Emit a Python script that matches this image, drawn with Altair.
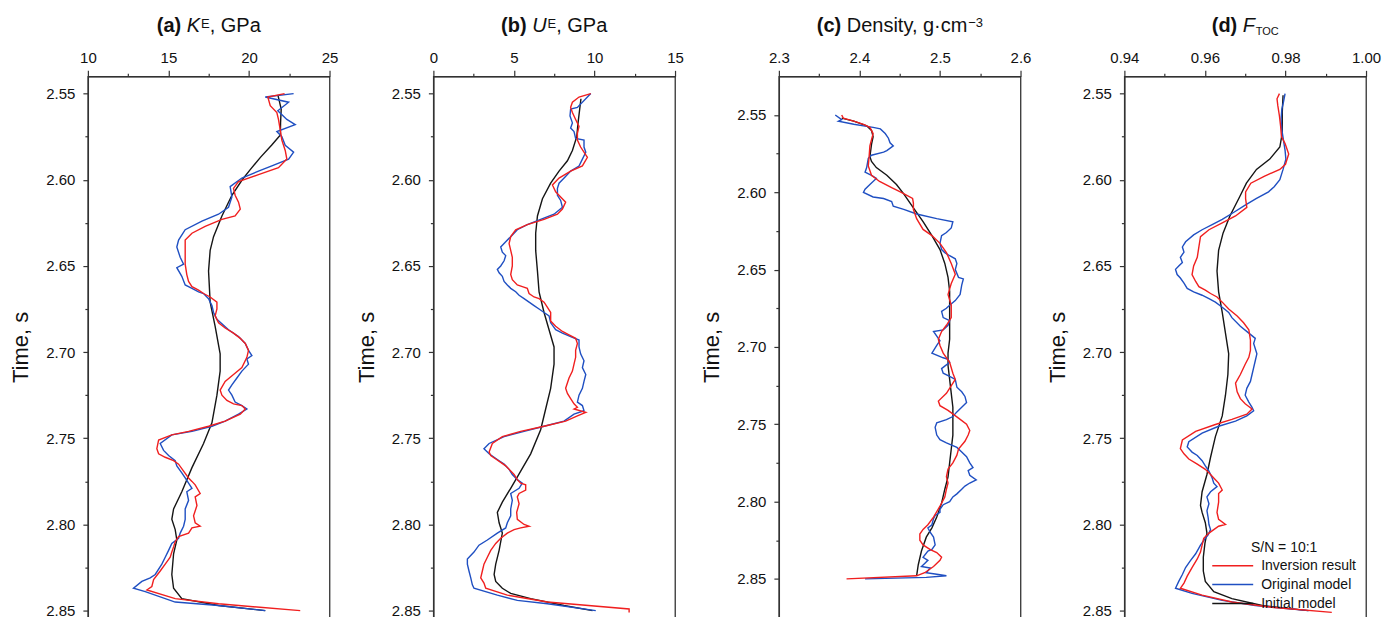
import altair as alt
import pandas as pd

FONT = "Liberation Sans"
RED = "#f01f1f"
BLUE = "#1f4fc2"
BLACK = "#151515"
SERIES = ["Inversion result", "Original model", "Initial model"]

a_inv = [(2.550,22.21),(2.552,21.17),(2.557,21.32),(2.561,21.73),(2.565,21.83),(2.571,21.94),(2.577,22.04),(2.583,22.25),(2.588,22.35),(2.593,21.83),(2.597,20.59),(2.601,19.35),(2.605,19.04),(2.609,19.14),(2.613,19.35),(2.617,19.46),(2.621,19.14),(2.623,18.32),(2.627,17.28),(2.631,16.46),(2.635,16.04),(2.641,16.04),(2.649,16.04),(2.655,16.14),(2.659,16.25),(2.662,16.46),(2.664,16.87),(2.666,17.18),(2.668,17.59),(2.671,18.01),(2.675,18.01),(2.679,17.90),(2.683,18.11),(2.686,18.52),(2.689,19.04),(2.692,19.46),(2.695,19.77),(2.699,19.97),(2.703,19.87),(2.709,19.56),(2.713,19.04),(2.717,18.52),(2.722,18.21),(2.725,18.32),(2.728,18.63),(2.730,19.04),(2.731,19.56),(2.733,19.77),(2.736,19.46),(2.740,18.52),(2.743,17.49),(2.746,16.25),(2.748,15.21),(2.751,14.39),(2.756,14.28),(2.759,14.39),(2.761,14.80),(2.763,15.32),(2.765,15.63),(2.769,15.94),(2.773,16.25),(2.775,16.46),(2.777,16.66),(2.782,16.97),(2.784,16.66),(2.789,16.77),(2.795,16.56),(2.799,16.66),(2.801,16.97),(2.802,16.46),(2.805,16.25),(2.807,15.63),(2.810,15.42),(2.813,15.32),(2.816,15.21),(2.819,15.11),(2.823,14.80),(2.827,14.49),(2.832,14.08),(2.836,13.97),(2.838,13.66),(2.843,15.42),(2.846,18.11),(2.850,23.18)]
a_orig = [(2.550,22.77),(2.552,21.01),(2.555,22.46),(2.560,21.79),(2.565,22.35),(2.568,22.87),(2.572,21.73),(2.575,22.04),(2.580,22.25),(2.584,22.77),(2.588,22.46),(2.592,21.42),(2.595,20.59),(2.599,19.56),(2.604,18.83),(2.610,18.94),(2.616,18.73),(2.620,18.11),(2.624,17.08),(2.629,16.04),(2.635,15.63),(2.639,15.52),(2.645,15.73),(2.649,15.94),(2.651,15.52),(2.656,15.83),(2.661,16.04),(2.663,16.46),(2.665,16.87),(2.666,17.18),(2.669,17.49),(2.673,17.70),(2.677,17.80),(2.681,18.01),(2.687,18.73),(2.691,19.35),(2.695,19.77),(2.699,19.97),(2.702,20.18),(2.704,19.87),(2.707,19.97),(2.711,19.56),(2.715,19.25),(2.719,18.94),(2.722,18.73),(2.725,18.94),(2.729,19.14),(2.731,19.56),(2.733,19.87),(2.736,19.35),(2.740,18.52),(2.743,17.70),(2.746,16.46),(2.748,15.21),(2.753,14.49),(2.757,14.70),(2.760,15.01),(2.763,15.42),(2.766,15.52),(2.770,15.83),(2.773,16.04),(2.776,16.25),(2.779,16.46),(2.781,16.14),(2.786,16.25),(2.791,16.04),(2.797,16.04),(2.801,15.94),(2.805,15.73),(2.808,15.63),(2.811,15.21),(2.815,15.01),(2.819,14.80),(2.823,14.59),(2.829,14.18),(2.831,13.87),(2.833,13.35),(2.837,12.83),(2.839,13.56),(2.845,15.42),(2.847,18.11),(2.850,21.01)]
a_init = [(2.551,21.80),(2.559,22.00),(2.567,21.96),(2.574,21.95),(2.580,21.40),(2.587,20.71),(2.594,20.09),(2.600,19.58),(2.609,18.94),(2.621,18.32),(2.633,17.80),(2.641,17.59),(2.653,17.49),(2.671,17.59),(2.685,17.90),(2.701,18.21),(2.711,18.21),(2.725,18.01),(2.741,17.70),(2.753,17.18),(2.767,16.46),(2.781,15.83),(2.791,15.32),(2.797,15.21),(2.803,15.42),(2.809,15.52),(2.817,15.32),(2.829,15.21),(2.837,15.32),(2.843,15.83),(2.847,18.11),(2.850,21.01)]

b_inv = [(2.550,9.77),(2.552,9.04),(2.555,8.63),(2.558,8.52),(2.561,8.63),(2.565,8.83),(2.569,9.04),(2.573,8.94),(2.577,8.94),(2.581,9.14),(2.587,9.56),(2.592,9.25),(2.595,8.52),(2.599,7.80),(2.603,7.39),(2.607,7.59),(2.610,7.90),(2.613,8.21),(2.617,8.01),(2.620,7.70),(2.623,6.87),(2.626,5.83),(2.629,5.11),(2.633,4.80),(2.637,4.70),(2.641,4.80),(2.645,4.90),(2.650,4.90),(2.655,4.80),(2.658,4.90),(2.661,5.21),(2.662,5.52),(2.663,5.83),(2.666,5.94),(2.668,6.25),(2.669,6.56),(2.671,6.87),(2.674,7.08),(2.677,7.28),(2.682,7.28),(2.685,7.59),(2.688,8.01),(2.690,8.42),(2.692,8.83),(2.695,8.94),(2.699,8.83),(2.703,8.83),(2.707,8.73),(2.711,8.63),(2.715,8.42),(2.721,8.21),(2.724,8.32),(2.727,8.52),(2.730,8.73),(2.732,8.94),(2.733,8.73),(2.735,9.46),(2.737,8.94),(2.740,8.21),(2.743,6.87),(2.746,5.42),(2.749,4.28),(2.753,3.66),(2.758,3.46),(2.760,3.56),(2.762,3.87),(2.764,4.18),(2.766,4.49),(2.769,4.80),(2.771,5.01),(2.774,5.21),(2.776,5.42),(2.777,5.73),(2.780,5.73),(2.782,5.32),(2.784,5.21),(2.788,5.32),(2.793,5.17),(2.797,5.21),(2.800,5.63),(2.801,5.94),(2.802,5.42),(2.803,5.01),(2.805,4.59),(2.808,4.18),(2.811,3.87),(2.815,3.56),(2.819,3.35),(2.823,3.14),(2.827,3.04),(2.831,2.94),(2.834,3.14),(2.837,3.25),(2.841,4.59),(2.845,7.08),(2.849,12.15),(2.851,12.15)]
b_orig = [(2.550,9.77),(2.558,8.94),(2.559,8.52),(2.563,8.48),(2.567,8.63),(2.570,8.52),(2.572,8.73),(2.576,8.83),(2.577,9.35),(2.581,9.35),(2.584,9.46),(2.588,9.25),(2.592,9.04),(2.595,8.52),(2.597,8.32),(2.600,8.01),(2.602,7.80),(2.605,7.70),(2.609,7.70),(2.612,7.90),(2.616,8.01),(2.620,7.49),(2.623,6.66),(2.626,5.83),(2.629,5.21),(2.633,4.80),(2.636,4.49),(2.639,4.18),(2.642,4.28),(2.644,4.49),(2.647,4.39),(2.650,4.18),(2.652,3.97),(2.654,4.08),(2.656,4.28),(2.659,4.39),(2.661,4.59),(2.663,4.80),(2.665,5.11),(2.667,5.32),(2.669,5.63),(2.671,5.94),(2.673,6.25),(2.675,6.56),(2.677,6.87),(2.679,7.18),(2.683,7.28),(2.687,7.59),(2.689,8.01),(2.691,8.52),(2.693,9.04),(2.697,9.04),(2.701,9.14),(2.705,9.35),(2.709,9.25),(2.713,9.46),(2.717,9.35),(2.721,9.25),(2.725,9.04),(2.729,8.94),(2.731,9.25),(2.734,9.35),(2.736,8.73),(2.740,8.11),(2.743,6.87),(2.746,5.63),(2.749,4.39),(2.753,3.46),(2.756,3.14),(2.759,3.46),(2.761,3.77),(2.763,4.08),(2.765,4.39),(2.768,4.70),(2.771,4.90),(2.774,5.21),(2.776,5.52),(2.779,5.32),(2.782,4.80),(2.786,4.90),(2.791,4.80),(2.795,4.80),(2.799,4.59),(2.802,4.49),(2.805,3.97),(2.809,3.35),(2.812,2.83),(2.816,2.52),(2.820,2.11),(2.823,2.11),(2.827,2.21),(2.831,2.32),(2.835,2.42),(2.837,2.52),(2.841,3.97),(2.844,5.21),(2.846,7.08),(2.850,10.08)]
b_init = [(2.553,9.16),(2.567,8.98),(2.575,8.90),(2.583,8.63),(2.589,8.32),(2.595,7.80),(2.602,7.28),(2.611,6.77),(2.621,6.46),(2.631,6.35),(2.641,6.35),(2.653,6.46),(2.665,6.56),(2.677,6.87),(2.687,7.18),(2.697,7.49),(2.707,7.49),(2.721,7.28),(2.733,6.97),(2.745,6.66),(2.759,6.04),(2.769,5.42),(2.779,4.80),(2.787,4.28),(2.793,3.97),(2.799,4.08),(2.805,4.28),(2.815,4.08),(2.823,3.87),(2.829,3.77),(2.833,3.87),(2.837,4.28),(2.840,4.80),(2.843,6.04),(2.847,8.11),(2.850,9.88)]

c_inv = [(2.550,2.378),(2.552,2.380),(2.554,2.393),(2.556,2.405),(2.558,2.413),(2.562,2.417),(2.566,2.415),(2.570,2.413),(2.577,2.412),(2.583,2.411),(2.589,2.415),(2.593,2.425),(2.597,2.440),(2.600,2.452),(2.604,2.466),(2.607,2.467),(2.611,2.467),(2.617,2.471),(2.624,2.479),(2.628,2.490),(2.633,2.500),(2.639,2.508),(2.646,2.514),(2.653,2.519),(2.659,2.514),(2.666,2.510),(2.673,2.514),(2.681,2.514),(2.686,2.508),(2.690,2.502),(2.695,2.498),(2.699,2.500),(2.704,2.504),(2.710,2.512),(2.717,2.516),(2.721,2.519),(2.730,2.508),(2.735,2.498),(2.738,2.500),(2.741,2.510),(2.746,2.523),(2.750,2.533),(2.754,2.537),(2.757,2.535),(2.761,2.531),(2.766,2.523),(2.770,2.521),(2.775,2.516),(2.779,2.510),(2.784,2.508),(2.788,2.510),(2.792,2.508),(2.797,2.506),(2.803,2.500),(2.810,2.492),(2.815,2.485),(2.818,2.479),(2.821,2.475),(2.825,2.475),(2.828,2.479),(2.831,2.488),(2.833,2.496),(2.836,2.502),(2.838,2.500),(2.842,2.492),(2.846,2.481),(2.848,2.471),(2.850,2.384)]
c_orig = [(2.550,2.370),(2.553,2.378),(2.554,2.374),(2.556,2.393),(2.557,2.405),(2.558,2.417),(2.559,2.426),(2.562,2.432),(2.565,2.436),(2.568,2.438),(2.570,2.442),(2.573,2.434),(2.574,2.430),(2.576,2.415),(2.578,2.411),(2.584,2.409),(2.587,2.407),(2.589,2.415),(2.591,2.421),(2.595,2.413),(2.598,2.407),(2.600,2.405),(2.603,2.417),(2.604,2.430),(2.606,2.440),(2.609,2.442),(2.611,2.455),(2.614,2.471),(2.617,2.496),(2.619,2.516),(2.623,2.514),(2.626,2.508),(2.628,2.502),(2.633,2.500),(2.637,2.502),(2.639,2.506),(2.641,2.512),(2.643,2.519),(2.646,2.521),(2.650,2.519),(2.655,2.523),(2.656,2.529),(2.660,2.527),(2.666,2.525),(2.670,2.519),(2.673,2.512),(2.675,2.508),(2.677,2.502),(2.681,2.504),(2.683,2.512),(2.686,2.510),(2.689,2.504),(2.690,2.492),(2.693,2.496),(2.696,2.500),(2.699,2.496),(2.704,2.490),(2.707,2.504),(2.708,2.510),(2.710,2.512),(2.714,2.502),(2.717,2.504),(2.719,2.512),(2.721,2.519),(2.726,2.521),(2.729,2.527),(2.732,2.531),(2.736,2.533),(2.739,2.527),(2.742,2.521),(2.745,2.516),(2.747,2.508),(2.749,2.496),(2.752,2.494),(2.757,2.496),(2.760,2.500),(2.762,2.508),(2.765,2.521),(2.768,2.527),(2.771,2.533),(2.775,2.537),(2.778,2.541),(2.780,2.535),(2.783,2.537),(2.786,2.545),(2.788,2.537),(2.790,2.531),(2.792,2.527),(2.795,2.521),(2.797,2.516),(2.800,2.512),(2.802,2.504),(2.805,2.500),(2.807,2.500),(2.809,2.494),(2.811,2.492),(2.815,2.490),(2.817,2.485),(2.820,2.488),(2.823,2.492),(2.828,2.494),(2.831,2.490),(2.832,2.485),(2.836,2.479),(2.838,2.485),(2.840,2.481),(2.842,2.477),(2.843,2.488),(2.846,2.483),(2.847,2.496),(2.848,2.508),(2.849,2.483),(2.850,2.407)]
c_init = [(2.552,2.378),(2.554,2.393),(2.557,2.409),(2.560,2.415),(2.564,2.417),(2.569,2.415),(2.577,2.413),(2.580,2.415),(2.584,2.421),(2.589,2.434),(2.595,2.446),(2.601,2.455),(2.610,2.467),(2.619,2.479),(2.628,2.490),(2.637,2.500),(2.646,2.506),(2.655,2.510),(2.664,2.512),(2.677,2.512),(2.686,2.512),(2.695,2.512),(2.704,2.510),(2.712,2.510),(2.721,2.512),(2.730,2.514),(2.739,2.516),(2.748,2.516),(2.757,2.516),(2.766,2.514),(2.775,2.512),(2.784,2.510),(2.792,2.506),(2.801,2.502),(2.810,2.496),(2.817,2.490),(2.823,2.483),(2.832,2.477),(2.841,2.473),(2.848,2.471)]

d_inv = [(2.550,0.9785),(2.553,0.9779),(2.557,0.9781),(2.563,0.9785),(2.569,0.9788),(2.575,0.9790),(2.579,0.9799),(2.585,0.9808),(2.591,0.9800),(2.594,0.9786),(2.598,0.9747),(2.602,0.9714),(2.607,0.9701),(2.611,0.9701),(2.616,0.9704),(2.621,0.9676),(2.625,0.9643),(2.629,0.9610),(2.633,0.9589),(2.639,0.9585),(2.645,0.9581),(2.650,0.9572),(2.655,0.9568),(2.659,0.9577),(2.662,0.9585),(2.664,0.9601),(2.666,0.9614),(2.668,0.9630),(2.671,0.9643),(2.675,0.9659),(2.679,0.9680),(2.683,0.9696),(2.687,0.9709),(2.693,0.9713),(2.699,0.9713),(2.703,0.9709),(2.707,0.9700),(2.713,0.9688),(2.718,0.9676),(2.723,0.9680),(2.727,0.9688),(2.730,0.9700),(2.733,0.9717),(2.736,0.9704),(2.739,0.9667),(2.742,0.9626),(2.746,0.9577),(2.751,0.9544),(2.756,0.9539),(2.759,0.9548),(2.762,0.9560),(2.765,0.9581),(2.768,0.9601),(2.771,0.9614),(2.774,0.9626),(2.776,0.9634),(2.780,0.9643),(2.782,0.9634),(2.787,0.9634),(2.793,0.9630),(2.797,0.9634),(2.800,0.9651),(2.801,0.9634),(2.803,0.9622),(2.805,0.9610),(2.808,0.9597),(2.812,0.9593),(2.816,0.9589),(2.820,0.9581),(2.825,0.9568),(2.830,0.9556),(2.834,0.9548),(2.837,0.9539),(2.841,0.9593),(2.845,0.9667),(2.848,0.9766),(2.851,0.9915)]
d_orig = [(2.550,0.9799),(2.555,0.9795),(2.559,0.9791),(2.565,0.9789),(2.571,0.9791),(2.577,0.9795),(2.583,0.9799),(2.588,0.9801),(2.594,0.9794),(2.600,0.9786),(2.604,0.9772),(2.607,0.9758),(2.611,0.9727),(2.615,0.9698),(2.619,0.9671),(2.623,0.9643),(2.626,0.9618),(2.629,0.9593),(2.632,0.9572),(2.636,0.9552),(2.639,0.9544),(2.642,0.9548),(2.645,0.9539),(2.648,0.9544),(2.650,0.9535),(2.652,0.9527),(2.655,0.9531),(2.657,0.9539),(2.660,0.9548),(2.663,0.9556),(2.665,0.9572),(2.667,0.9593),(2.669,0.9610),(2.671,0.9626),(2.674,0.9643),(2.677,0.9659),(2.680,0.9667),(2.685,0.9688),(2.689,0.9709),(2.692,0.9725),(2.695,0.9721),(2.701,0.9729),(2.705,0.9725),(2.709,0.9721),(2.713,0.9717),(2.717,0.9713),(2.721,0.9704),(2.725,0.9700),(2.729,0.9709),(2.732,0.9717),(2.734,0.9721),(2.737,0.9704),(2.740,0.9676),(2.743,0.9634),(2.747,0.9593),(2.752,0.9560),(2.755,0.9556),(2.758,0.9568),(2.760,0.9581),(2.763,0.9593),(2.766,0.9601),(2.769,0.9610),(2.773,0.9618),(2.776,0.9622),(2.778,0.9630),(2.781,0.9614),(2.784,0.9605),(2.788,0.9610),(2.792,0.9605),(2.796,0.9608),(2.800,0.9610),(2.803,0.9614),(2.806,0.9608),(2.808,0.9601),(2.812,0.9589),(2.817,0.9577),(2.821,0.9564),(2.825,0.9552),(2.829,0.9544),(2.833,0.9535),(2.837,0.9527),(2.840,0.9568),(2.844,0.9643),(2.847,0.9725),(2.850,0.9857)]
d_init = [(2.551,0.9794),(2.561,0.9792),(2.573,0.9792),(2.581,0.9786),(2.588,0.9761),(2.594,0.9728),(2.602,0.9703),(2.610,0.9686),(2.621,0.9662),(2.631,0.9645),(2.641,0.9634),(2.653,0.9630),(2.665,0.9634),(2.677,0.9643),(2.689,0.9651),(2.701,0.9659),(2.713,0.9657),(2.725,0.9651),(2.737,0.9643),(2.749,0.9626),(2.761,0.9614),(2.771,0.9605),(2.781,0.9593),(2.789,0.9589),(2.793,0.9593),(2.799,0.9601),(2.805,0.9605),(2.811,0.9600),(2.819,0.9596),(2.827,0.9596),(2.833,0.9601),(2.839,0.9622),(2.843,0.9667),(2.847,0.9742),(2.850,0.9857)]

a_ticks = [10, 12.5, 15, 17.5, 20, 22.5, 25]
b_ticks = [0, 2.5, 5, 7.5, 10, 12.5, 15]
c_ticks = [2.3, 2.35, 2.4, 2.45, 2.5, 2.55, 2.6]
d_ticks = [0.94, 0.95, 0.96, 0.97, 0.98, 0.99, 1.00]
t_ticks = [2.55, 2.575, 2.6, 2.625, 2.65, 2.675, 2.7, 2.725, 2.75, 2.775, 2.8, 2.825, 2.85]

W, H = 242, 542
TITLE_Y = -44
cscale = alt.Scale(domain=SERIES, range=[RED, BLUE, BLACK])
dummy = pd.DataFrame({"k": [0]})


def series_df(pairs, name):
    return pd.DataFrame({"t": [p[0] for p in pairs], "v": [p[1] for p in pairs],
                         "series": name, "i": list(range(len(pairs)))})


def panel(inv, orig, init, xdom, xvals, xtest, xfmt, ydom, parts, legend):
    xs = alt.Scale(domain=xdom, nice=False, zero=False)
    ys = alt.Scale(domain=ydom, nice=False, zero=False, reverse=True)
    ytest = "round(datum.value*1000) % 50 == 0"
    xa = alt.Axis(orient="top", values=xvals, title=None, grid=False,
                  labelExpr=f"({xtest}) ? format(datum.value, '{xfmt}') : ''",
                  tickSize={"condition": {"test": xtest, "value": 6}, "value": 3},
                  labelFontSize=15, labelPadding=5, labelFlush=False)
    ya = alt.Axis(orient="left", values=t_ticks, title="Time, s", grid=False,
                  labelExpr=f"({ytest}) ? format(datum.value, '.2f') : ''",
                  tickSize={"condition": {"test": ytest, "value": 5}, "value": 3},
                  labelFontSize=15, labelPadding=8, titleFontSize=22,
                  titleFontWeight="normal", titlePadding=13)
    layers = []
    for pairs, name in [(init, "Initial model"), (orig, "Original model"), (inv, "Inversion result")]:
        layers.append(
            alt.Chart(series_df(pairs, name)).mark_line(strokeWidth=1.4).encode(
                x=alt.X("v:Q", scale=xs, axis=xa),
                y=alt.Y("t:Q", scale=ys, axis=ya),
                color=alt.Color("series:N", scale=cscale, legend=legend),
                order=alt.Order("i:Q"),
            )
        )
    for text, px, dy, size, weight, style in parts:
        layers.append(
            alt.Chart(dummy).mark_text(align="left", baseline="alphabetic", font=FONT,
                                       fontSize=size, fontWeight=weight, fontStyle=style,
                                       color="#111111").encode(
                x=alt.value(px), y=alt.value(TITLE_Y + dy), text=alt.value(text))
        )
    return alt.layer(*layers).properties(width=W, height=H)


legend_d = alt.Legend(orient="none", legendX=88, legendY=465, title="S/N = 10:1",
                      titleFontSize=14, titleFontWeight="normal", titleAnchor="middle",
                      titleAlign="center", titlePadding=4, titleColor="#111111",
                      labelFontSize=14, labelOffset=35, labelColor="#111111", labelLimit=300,
                      symbolType="M-1.1667,0H5.6667", symbolSize=144, symbolStrokeWidth=1.5,
                      rowPadding=5, padding=0)

pa = panel(a_inv, a_orig, a_init, [10, 25], a_ticks, "datum.value % 5 == 0", "d",
           [2.54, 2.854],
           [("(a)", 69, 0, 20, "bold", "normal"), ("K", 99, 0, 20, "normal", "italic"),
            ("E", 113.3, -4.5, 13, "normal", "normal"), (", GPa", 122, 0, 20, "normal", "normal")],
           None)
pb = panel(b_inv, b_orig, b_init, [0, 15], b_ticks, "datum.value % 5 == 0", "d",
           [2.54, 2.854],
           [("(b)", 67.8, 0, 20, "bold", "normal"), ("U", 98.9, 0, 20, "normal", "italic"),
            ("E", 114.3, -4.5, 13, "normal", "normal"), (", GPa", 123, 0, 20, "normal", "normal")],
           None)
pc = panel(c_inv, c_orig, c_init, [2.3, 2.6], c_ticks, "round(datum.value*100) % 10 == 0", ".1f",
           [2.525, 2.875],
           [("(c)", 38, 0, 20, "bold", "normal"), ("Density, g\u00b7cm", 68, 0, 20, "normal", "normal"),
            ("\u22123", 189.6, -5, 13, "normal", "normal")],
           None)
pd_ = panel(d_inv, d_orig, d_init, [0.94, 1.00], d_ticks, "round(datum.value*1000) % 20 == 0", ".2f",
            [2.54, 2.854],
            [("(d)", 87.5, 0, 20, "bold", "normal"), ("F", 118.6, 0, 20, "normal", "italic"),
             ("TOC", 131.5, 2.5, 11, "normal", "normal")],
            legend_d)

chart = (
    alt.HConcatChart(hconcat=[pa, pb, pc, pd_], spacing=104, bounds="flush")
    .resolve_scale(color="independent")
    .resolve_legend(color="independent")
    .properties(padding={"left": 1, "top": 7, "right": 0, "bottom": 0})
    .configure(font=FONT, background="white")
    .configure_view(stroke="#333333", strokeWidth=1.3)
    .configure_axis(domainColor="#333333", domainWidth=1.3, tickColor="#333333", tickWidth=1.2,
                    labelColor="#111111", titleColor="#111111", labelFont=FONT, titleFont=FONT)
)

chart.save("out.html", embed_options={"renderer": "svg", "actions": False})
